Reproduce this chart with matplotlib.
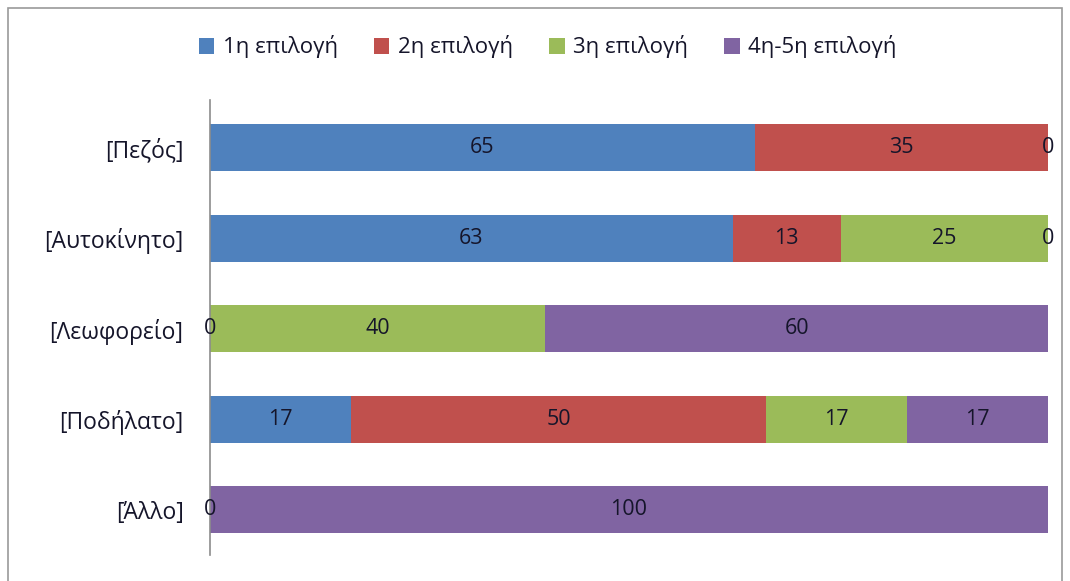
import numpy as np
import matplotlib.pyplot as plt
from matplotlib.patches import Rectangle

plt.rcParams['font.family'] = ['Open Sans', 'DejaVu Sans']

# categories, top to bottom
categories = ['[Πεζός]', '[Αυτοκίνητο]', '[Λεωφορείο]', '[Ποδήλατο]', '[Άλλο]']
series_names = ['1η επιλογή', '2η επιλογή', '3η επιλογή', '4η-5η επιλογή']
colors = ['#4F81BD', '#C0504D', '#9BBB59', '#8064A2']

# nan = no value shown for that segment
choice1 = [65, 63, 0, 17, 0]
choice2 = [35, 13, np.nan, 50, np.nan]
choice3 = [0, 25, 40, 17, np.nan]
choice4 = [np.nan, 0, 60, 17, 100]

data = np.array([choice1, choice2, choice3, choice4], dtype=float)
totals = np.nansum(data, axis=0)
shares = np.nan_to_num(data) / totals * 100

fig = plt.figure(figsize=(10.7, 5.81), dpi=100)
# chart border
fig.patches.append(Rectangle((8 / 1070, -0.05), 1054 / 1070, 1.05 - 8 / 581,
                             transform=fig.transFigure, fill=False,
                             edgecolor='#9a9a9a', linewidth=1.2))

ax = fig.add_axes([210 / 1070, 26 / 581, 838 / 1070, 455 / 581])
y = np.arange(len(categories))
left = np.zeros(len(categories))
for i, name in enumerate(series_names):
    bars = ax.barh(y, shares[i], left=left, height=0.52, color=colors[i], label=name)
    labels = ['' if np.isnan(v) else f'{int(v)}' for v in data[i]]
    ax.bar_label(bars, labels=labels, label_type='center', fontsize=15.5, color='#15152a')
    left += shares[i]

ax.set_xlim(0, 100)
ax.set_ylim(4.5, -0.53)
ax.set_yticks(y)
ax.set_yticklabels(categories, fontsize=16.5, color='#15152a')
ax.tick_params(axis='y', length=0, pad=19)
ax.set_xticks([])
for side in ['top', 'right', 'bottom']:
    ax.spines[side].set_visible(False)
ax.spines['left'].set_color('#8c8c8c')
ax.spines['left'].set_linewidth(1.2)

fig.legend(loc='center', bbox_to_anchor=(0.512, 1 - 47 / 581), ncol=4, frameon=False,
           fontsize=16, handlelength=0.7, handleheight=0.7, handletextpad=0.4,
           columnspacing=1.6, labelcolor='#15152a')

fig.savefig('out.png', dpi=100)
